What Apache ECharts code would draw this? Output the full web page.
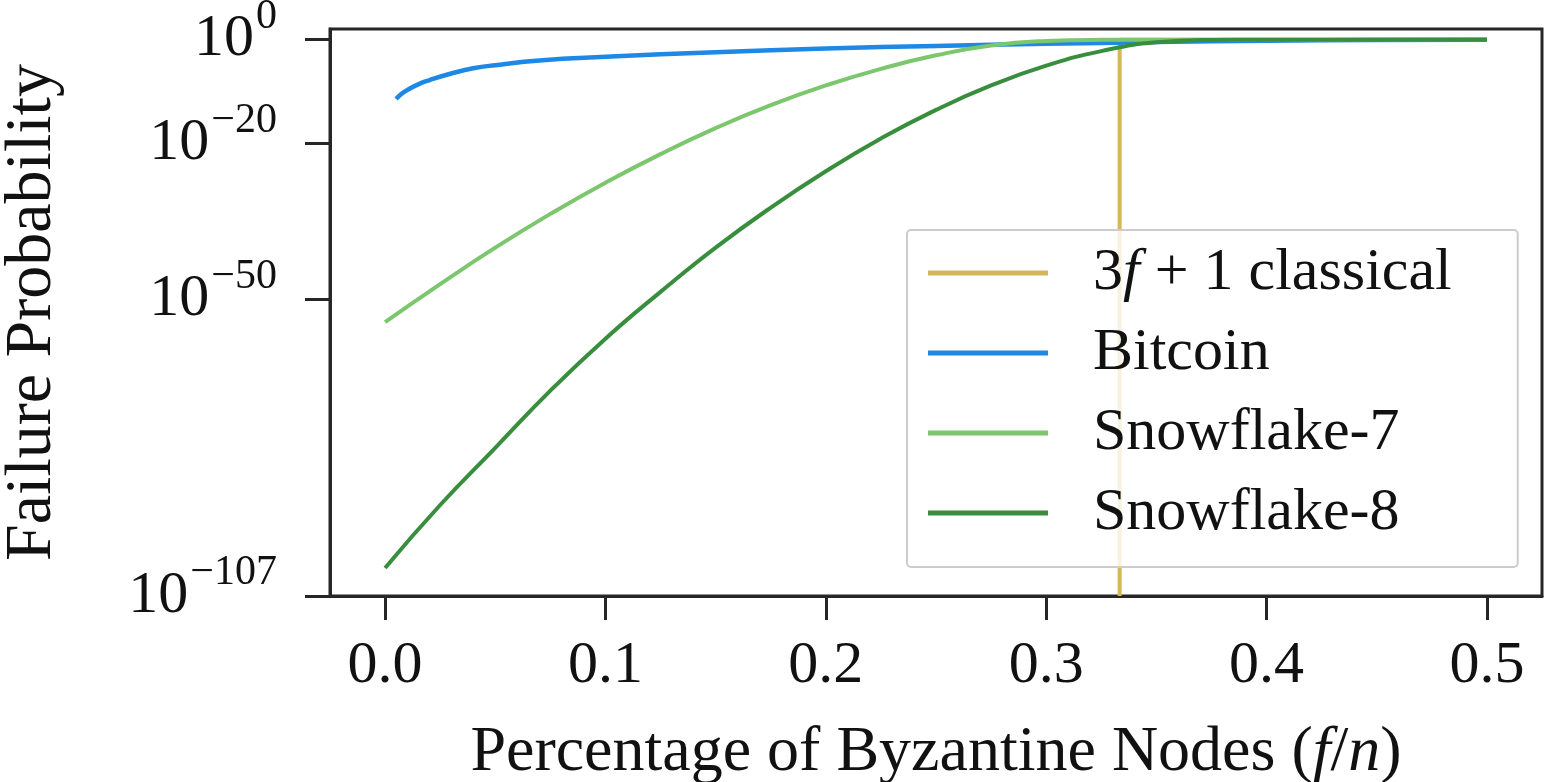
<!DOCTYPE html>
<html>
<head>
<meta charset="utf-8">
<script src="https://cdn.jsdelivr.net/npm/echarts@6/dist/echarts.min.js"></script>
<style>
  html, body { margin: 0; padding: 0; background: #fff; }
  #chart { width: 1544px; height: 782px; }
</style>
</head>
<body>
<div id="chart"></div>
<script>
// log10 of failure probability
var bitcoinX = [0.005, 0.0075, 0.01, 0.015, 0.02, 0.03, 0.04, 0.05, 0.07, 0.1, 0.15, 0.2, 0.25, 0.3, 0.35, 0.4, 0.45, 0.5];
var bitcoinY = [-11.4, -10.4, -9.7, -8.6, -7.8, -6.5, -5.5, -4.9, -4.0, -3.3, -2.4, -1.7, -1.2, -0.8, -0.45, -0.2, -0.07, 0];

var snowX = [0, 0.025, 0.05, 0.075, 0.1, 0.125, 0.15, 0.175, 0.2, 0.225, 0.25, 0.275, 0.3, 0.325, 0.35, 0.375, 0.4, 0.425, 0.45, 0.475, 0.5];
var snow7Y = [-54.3, -47, -40, -33.5, -27.5, -22, -17, -12.6, -8.8, -5.6, -3.0, -1.1, -0.25, -0.03, 0, 0, 0, 0, 0, 0, 0];
var snow8Y = [-101.6, -89.5, -78.5, -67.5, -57.5, -48.5, -40, -32.3, -25.3, -19, -13.5, -8.8, -5, -2.2, -0.5, -0.05, 0, 0, 0, 0, 0];

var classicalX = [1 / 3, 1 / 3, 0.5];
var classicalY = [-107, 0, 0];

var xTicks = [0, 0.1, 0.2, 0.3, 0.4, 0.5];
var yTicks = [0, -20, -50, -107];

var names = ['3f + 1 classical', 'Bitcoin', 'Snowflake-7', 'Snowflake-8'];
var colors = ['#d6b758', '#1e88e5', '#7cc66d', '#388e3c'];

function pairs(xs, ys) {
    return xs.map(function (x, i) { return [x, ys[i]]; });
}

var FONT = "'Liberation Serif', serif";

var myChart = echarts.init(document.getElementById('chart'));
var option = {
    animation: false,
    backgroundColor: '#fff',
    textStyle: { fontFamily: FONT },
    grid: {
        left: 330, right: 2, top: 29, bottom: 186,
        show: true, borderColor: '#262626', borderWidth: 3,
        outerBoundsMode: 'none'
    },
    legend: {
        orient: 'vertical',
        left: 907, top: 230,
        padding: [13, 66, 24, 21],
        itemGap: 20,
        itemWidth: 120, itemHeight: 5,
        icon: 'rect',
        backgroundColor: 'rgba(255,255,255,0.8)',
        borderColor: '#cccccc', borderWidth: 2, borderRadius: 4,
        data: names,
        formatter: function (n) {
            if (n === names[0]) return '3{i|f} + 1 classical';
            return n;
        },
        textStyle: {
            fontFamily: FONT, fontSize: 60, lineHeight: 60, color: '#111',
            padding: [0, 0, 0, 40],
            rich: { i: { fontFamily: FONT, fontStyle: 'italic', fontSize: 60, lineHeight: 60, color: '#111' } }
        }
    },
    xAxis: {
        type: 'value',
        min: -0.025, max: 0.525,
        name: 'Percentage of Byzantine Nodes ({i|f}/{i|n})',
        nameLocation: 'middle',
        nameGap: 125,
        nameTextStyle: {
            fontFamily: FONT, fontSize: 64, lineHeight: 64, color: '#111',
            rich: { i: { fontFamily: FONT, fontStyle: 'italic', fontSize: 64, lineHeight: 64, color: '#111' } }
        },
        axisLine: { show: true, onZero: false, lineStyle: { color: '#262626', width: 3 } },
        axisTick: { show: true, customValues: xTicks, length: 24, lineStyle: { color: '#262626', width: 3 } },
        axisLabel: {
            customValues: xTicks, margin: 40,
            fontFamily: FONT, fontSize: 60, lineHeight: 60, color: '#111',
            formatter: function (v) { return v.toFixed(1); }
        },
        splitLine: { show: false }
    },
    yAxis: {
        type: 'value',
        min: -107, max: 2.06,
        name: 'Failure Probability',
        nameLocation: 'middle',
        nameGap: 264,
        nameTextStyle: { fontFamily: FONT, fontSize: 66, color: '#111' },
        axisLine: { show: true, onZero: false, lineStyle: { color: '#262626', width: 3 } },
        axisTick: { show: true, customValues: yTicks, length: 25, lineStyle: { color: '#262626', width: 3 } },
        axisLabel: {
            customValues: yTicks, margin: 53,
            formatter: function (v) {
                var e = v === 0 ? '0' : '\u2212' + (-v);
                return '{b|10}{s|' + e + '}';
            },
            rich: {
                b: { fontFamily: FONT, fontSize: 60, lineHeight: 60, color: '#111', verticalAlign: 'bottom' },
                s: { fontFamily: FONT, fontSize: 42, lineHeight: 42, color: '#111', verticalAlign: 'bottom', padding: [0, 0, 32, 2] }
            }
        },
        splitLine: { show: false }
    },
    series: [
        {
            name: names[0], type: 'line', data: pairs(classicalX, classicalY),
            symbol: 'none', color: colors[0], lineStyle: { width: 4, color: colors[0] }
        },
        {
            name: names[1], type: 'line', data: pairs(bitcoinX, bitcoinY),
            symbol: 'none', smooth: true, color: colors[1], lineStyle: { width: 4.5, color: colors[1] }
        },
        {
            name: names[2], type: 'line', data: pairs(snowX, snow7Y),
            symbol: 'none', smooth: true, color: colors[2], lineStyle: { width: 4, color: colors[2] }
        },
        {
            name: names[3], type: 'line', data: pairs(snowX, snow8Y),
            symbol: 'none', smooth: true, color: colors[3], lineStyle: { width: 4, color: colors[3] }
        }
    ]
};
myChart.setOption(option);
window.addEventListener('resize', function () { myChart.resize(); });
</script>
</body>
</html>
